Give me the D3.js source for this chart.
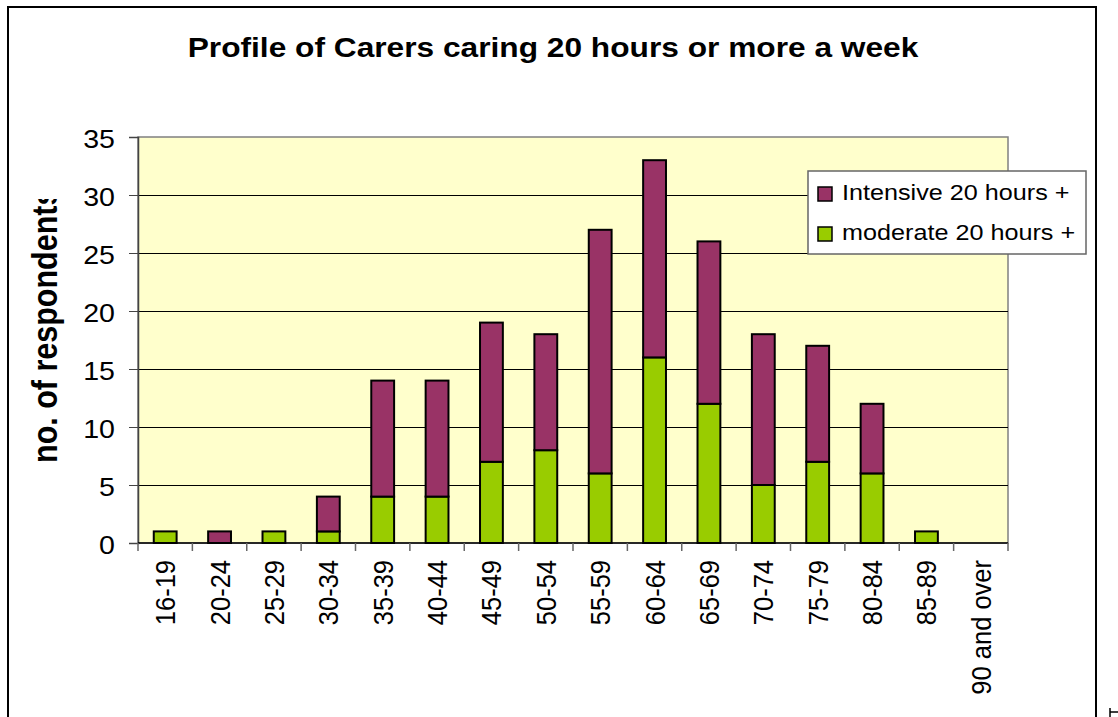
<!DOCTYPE html>
<html>
<head>
<meta charset="utf-8">
<script src="https://cdn.jsdelivr.net/npm/d3@7"></script>
<style>
  body { margin: 0; background: #fff; }
  text { font-family: Arial, "Liberation Sans", sans-serif; fill: #000; }
</style>
</head>
<body>
<div id="chart"></div>
<script>
// data
var ageGroups = ["16-19", "20-24", "25-29", "30-34", "35-39", "40-44", "45-49", "50-54",
                 "55-59", "60-64", "65-69", "70-74", "75-79", "80-84", "85-89", "90 and over"];
var moderate  = [1, 0, 1, 1, 4, 4, 7, 8, 6, 16, 12, 5, 7, 6, 1, 0];
var intensive = [0, 1, 0, 3, 10, 10, 12, 10, 21, 17, 14, 13, 10, 6, 0, 0];
var seriesNames = ["Intensive 20 hours +", "moderate 20 hours +"];
var yTicks = [0, 5, 10, 15, 20, 25, 30, 35];

var svgWidth = 1118, svgHeight = 717;
var plot = {left: 138, right: 1008, top: 137, bottom: 543};
var sx = 1.12; // text in the original is a little wider than tall
var colors = {intensive: "#993366", moderate: "#99cc00", plotBg: "#ffffcc"};

var svg = d3.select("#chart").append("svg")
    .attr("width", svgWidth)
    .attr("height", svgHeight);

// outer chart border
svg.append("rect")
    .attr("x", 8).attr("y", 7)
    .attr("width", 1088).attr("height", 730)
    .style("fill", "#fff").style("stroke", "#000").style("stroke-width", 2);
svg.append("path")
    .attr("d", "M1110,708V717M1110,712H1118")
    .style("stroke", "#000").style("stroke-width", 1.5).style("fill", "none");

// scales
var x = d3.scaleBand()
    .domain(ageGroups)
    .range([plot.left, plot.right])
    .paddingInner(0.58)
    .paddingOuter(0.29);
var y = d3.scaleLinear()
    .domain([0, 35])
    .range([plot.bottom, plot.top]);

// plot area
svg.append("rect")
    .attr("x", plot.left).attr("y", plot.top)
    .attr("width", plot.right - plot.left).attr("height", plot.bottom - plot.top)
    .style("fill", colors.plotBg).style("stroke", "#808080").style("stroke-width", 1.5);

// gridlines
svg.append("g").selectAll("line")
    .data(yTicks.filter(function(d) { return d > 0 && d < 35; }))
    .enter().append("line")
    .attr("x1", plot.left).attr("x2", plot.right)
    .attr("y1", function(d) { return Math.round(y(d)) + 0.5; })
    .attr("y2", function(d) { return Math.round(y(d)) + 0.5; })
    .style("stroke", "#000").style("stroke-width", 1);

// stacked bars
var rows = ageGroups.map(function(a, i) {
  return {age: a, moderate: moderate[i], intensive: intensive[i]};
});
var stack = d3.stack().keys(["moderate", "intensive"])(rows);

svg.append("g").selectAll("g")
    .data(stack)
    .enter().append("g")
    .style("fill", function(s) { return colors[s.key]; })
  .selectAll("rect")
    .data(function(s) { return s.filter(function(d) { return d[1] > d[0]; }); })
    .enter().append("rect")
    .attr("x", function(d) { return x(d.data.age); })
    .attr("y", function(d) { return y(d[1]); })
    .attr("width", x.bandwidth())
    .attr("height", function(d) { return y(d[0]) - y(d[1]); })
    .style("stroke", "#000").style("stroke-width", 2);

// y axis
var yAxis = svg.append("g")
    .attr("transform", "translate(" + plot.left + ",0)")
    .call(d3.axisLeft(y).tickValues(yTicks).tickSize(9).tickFormat(""));
yAxis.select(".domain").style("stroke", "#444").style("stroke-width", 1.5);
yAxis.selectAll(".tick line").style("stroke", "#444");

svg.append("g").selectAll("text")
    .data(yTicks)
    .enter().append("text")
    .attr("transform", function(d) { return "translate(115," + (y(d) + 2) + ") scale(" + sx + ",1)"; })
    .attr("text-anchor", "end")
    .attr("dy", "0.35em")
    .style("font-size", "25.5px")
    .text(function(d) { return d; });

// x axis: line plus ticks on category boundaries
var step = x.step();
var bounds = ageGroups.map(function(a) { return x(a) - step * x.paddingInner() / 2; });
bounds.push(plot.right);
svg.append("line")
    .attr("x1", plot.left).attr("x2", plot.right)
    .attr("y1", plot.bottom).attr("y2", plot.bottom)
    .style("stroke", "#000").style("stroke-width", 1.5);
svg.append("g").selectAll("line")
    .data(bounds)
    .enter().append("line")
    .attr("x1", function(d) { return d; }).attr("x2", function(d) { return d; })
    .attr("y1", plot.bottom).attr("y2", plot.bottom + 8)
    .style("stroke", "#666").style("stroke-width", 1.5);

svg.append("g").selectAll("text")
    .data(ageGroups)
    .enter().append("text")
    .attr("transform", function(d) {
      return "translate(" + (x(d) + x.bandwidth() / 2) + ",560) scale(" + sx + ",1) rotate(-90)";
    })
    .attr("text-anchor", "end")
    .attr("dy", "0.35em")
    .style("font-size", "25.5px")
    .text(function(d) { return d; });

// title
svg.append("text")
    .attr("transform", "translate(553,57) scale(" + sx + ",1)")
    .attr("text-anchor", "middle")
    .style("font-size", "28.3px")
    .style("font-weight", "bold")
    .text("Profile of Carers caring 20 hours or more a week");

// y axis title, clipped at the top like the original
svg.append("clipPath").attr("id", "yTitleClip")
  .append("rect").attr("x", 0).attr("y", 199).attr("width", 130).attr("height", 500);
svg.append("g")
    .attr("clip-path", "url(#yTitleClip)")
  .append("text")
    .attr("transform", "translate(57,463) scale(" + sx + ",1) rotate(-90)")
    .attr("text-anchor", "start")
    .style("font-size", "30.5px")
    .style("font-weight", "bold")
    .text("no. of respondents");

// legend
var legend = svg.append("g");
legend.append("rect")
    .attr("x", 808).attr("y", 171)
    .attr("width", 278).attr("height", 83)
    .style("fill", "#fff").style("stroke", "#666").style("stroke-width", 1.5);

var legendItems = legend.selectAll("g.item")
    .data([{name: seriesNames[0], color: colors.intensive},
           {name: seriesNames[1], color: colors.moderate}])
    .enter().append("g")
    .attr("class", "item")
    .attr("transform", function(d, i) { return "translate(0," + (i * 40) + ")"; });

legendItems.append("rect")
    .attr("x", 818).attr("y", 187)
    .attr("width", 14).attr("height", 14)
    .style("fill", function(d) { return d.color; })
    .style("stroke", "#000").style("stroke-width", 1.5);

legendItems.append("text")
    .attr("transform", "translate(842,200) scale(" + sx + ",1)")
    .style("font-size", "22.5px")
    .text(function(d) { return d.name; });
</script>
</body>
</html>
